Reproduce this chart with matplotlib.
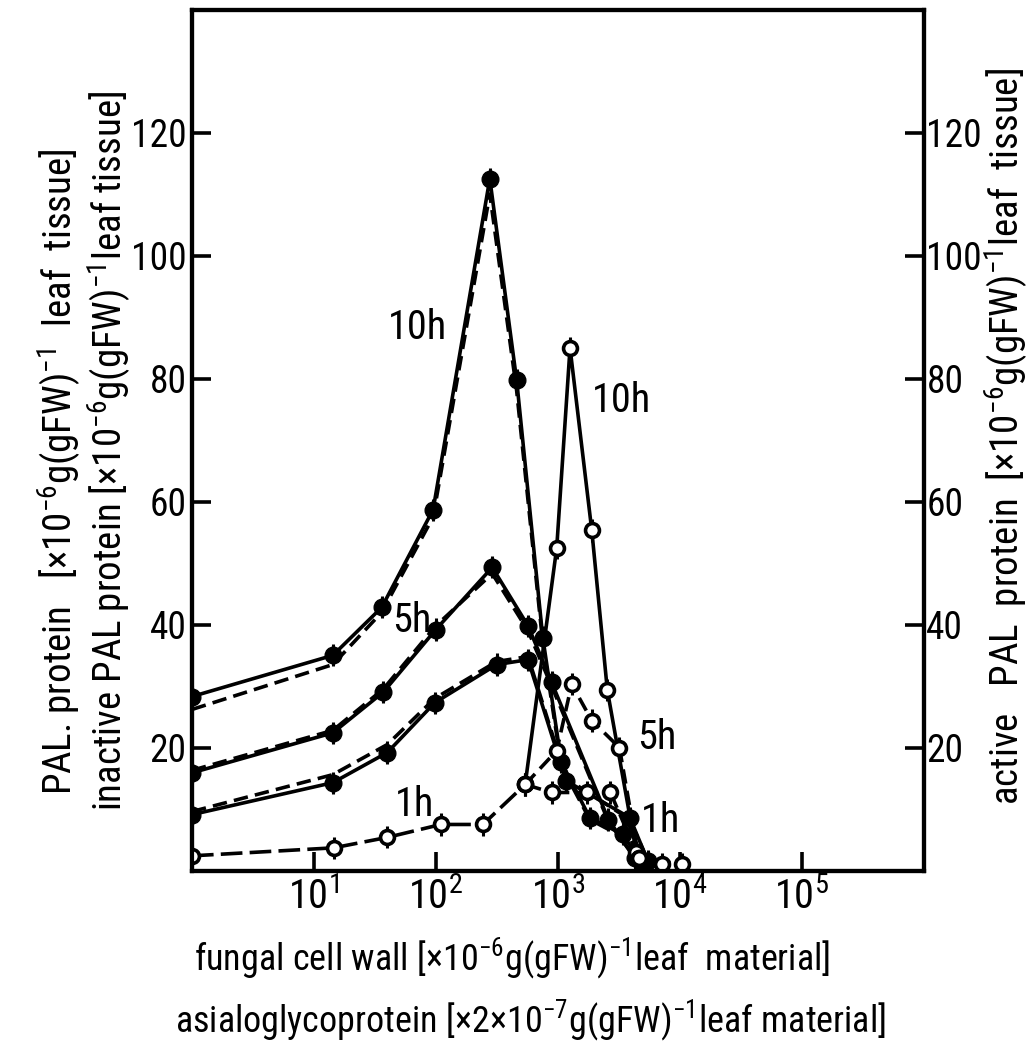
import matplotlib
matplotlib.use('Agg')
import matplotlib.pyplot as plt
from matplotlib.ticker import FixedLocator, NullLocator

FAM = ['Roboto Condensed', 'DejaVu Sans']
plt.rcParams['font.family'] = FAM
plt.rcParams['mathtext.fontset'] = 'custom'
plt.rcParams['mathtext.rm'] = 'Roboto Condensed'
plt.rcParams['mathtext.it'] = 'Roboto Condensed'
plt.rcParams['mathtext.bf'] = 'Roboto Condensed'
plt.rcParams['mathtext.sf'] = 'Roboto Condensed'

# ---------------- data ----------------
# filled circles: PAL protein (solid) and inactive PAL protein (dashed), left axis
x10_pal = [1, 14.3, 36, 95, 277, 460, 753, 1070, 1830, 3400, 5000]
y10_pal = [28.3, 35.0, 42.8, 58.7, 112.5, 79.7, 37.9, 17.6, 8.6, 5.9, 1.0]
y10_inact = [26.2, 33.5, 42.0, 57.5, 110.0, 78.0, 37.0, 17.0, 8.3, 5.5, 1.0]

x5_pal = [1, 14.3, 37, 100, 290, 570, 890, 2600, 4300]
y5_pal = [15.9, 22.4, 29.0, 39.2, 49.3, 39.8, 30.6, 8.3, 2.0]
y5_inact = [16.3, 22.8, 29.5, 39.8, 48.3, 39.0, 30.0, 8.0, 2.0]

x1_pal = [1, 14.3, 40, 98, 316, 570, 1170, 3900, 5500]
y1_pal = [9.1, 14.3, 19.2, 27.3, 33.5, 34.3, 14.6, 8.6, 1.5]
y1_inact = [9.6, 15.6, 20.5, 28.0, 34.0, 34.8, 15.0, 8.3, 1.5]

# open circles: active PAL protein, right axis
x10_act = [540, 980, 1260, 1900, 2550, 4400]
y10_act = [14.0, 52.5, 85.0, 55.3, 29.3, 3.0]

x5_act = [540, 980, 1300, 1900, 3200, 4600, 7200]
y5_act = [14.0, 19.5, 30.3, 24.4, 20.0, 2.1, 1.0]

x1_act = [1, 14.5, 40, 110, 243, 540, 890, 1750, 2700, 4600, 10500]
y1_act = [2.4, 3.7, 5.4, 7.5, 7.5, 14.0, 12.7, 12.7, 12.7, 2.1, 1.0]

xtick_vals = [1e1, 1e2, 1e3, 1e4, 1e5]
xtick_labels = ['10$^1$', '10$^2$', '10$^3$', '10$^4$', '10$^5$']
ytick_vals = [20, 40, 60, 80, 100, 120]
ytick_labels = ['20', '40', '60', '80', '100', '120']

# ---------------- style ----------------
LW = 2.6
DASH = (4, 2)
ERR = 1.8
TICK_FS = 27
LAB_FS = 28

fig = plt.figure(figsize=(10.32, 10.63), dpi=100)
ax = fig.add_axes([0.186, 0.181, 0.709, 0.810])
ax.set_xscale('log')
ax.set_xlim(1, 1e6)
ax.set_ylim(0, 140)

def filled(x, y, yi):
    ax.plot(x, yi, color='black', lw=LW, dashes=DASH, zorder=2)
    ax.errorbar(x, y, yerr=ERR, color='black', lw=LW, fmt='-o', ms=12,
                mfc='black', mec='black', elinewidth=2.2, capsize=0, zorder=3)

def opened(x, y, dashes=None):
    kw = dict(color='black', lw=LW, zorder=3)
    if dashes:
        ax.plot(x, y, dashes=dashes, **kw)
    else:
        ax.plot(x, y, **kw)
    ax.errorbar(x, y, yerr=ERR, fmt='o', ms=10, mfc='white', mec='black',
                mew=2.6, ecolor='black', elinewidth=2.2, capsize=0, zorder=4)

filled(x10_pal, y10_pal, y10_inact)
filled(x5_pal, y5_pal, y5_inact)
filled(x1_pal, y1_pal, y1_inact)
opened(x10_act, y10_act)
opened(x5_act, y5_act, dashes=(4, 2))
opened(x1_act, y1_act, dashes=(6, 2))

# curve labels
for tx, ty, s in [(71, 88.3, '10h'), (3300, 76.4, '10h'), (64, 40.7, '5h'),
                  (67, 10.7, '1h'), (6500, 21.6, '5h'), (6900, 8.1, '1h')]:
    ax.text(tx, ty, s, fontsize=29, ha='center', va='center')

# axes styling
for sp in ax.spines.values():
    sp.set_linewidth(3)
ax.xaxis.set_major_locator(FixedLocator(xtick_vals))
ax.xaxis.set_minor_locator(NullLocator())
ax.set_xticklabels(xtick_labels)
ax.set_yticks(ytick_vals)
ax.set_yticklabels(ytick_labels)
ax.tick_params(axis='both', direction='in', length=14, width=2.6,
               labelsize=TICK_FS, pad=4)
ax.tick_params(axis='x', pad=5, labelsize=29)

ax2 = ax.twinx()
ax2.set_ylim(0, 140)
ax2.set_yticks(ytick_vals)
ax2.set_yticklabels(ytick_labels)
ax2.tick_params(axis='y', direction='in', length=14, width=2.6,
                labelsize=TICK_FS, pad=2)
for sp in ax2.spines.values():
    sp.set_linewidth(3)

# axis titles
fig.text(0.058, 0.556,
         'PAL. protein   [×10$^{-6}$g(gFW)$^{-1}$  leaf  tissue]',
         rotation=90, ha='center', va='center', fontsize=LAB_FS)
fig.text(0.107, 0.576,
         'inactive PAL protein [×10$^{-6}$g(gFW)$^{-1}$leaf tissue]',
         rotation=90, ha='center', va='center', fontsize=LAB_FS)
fig.text(0.976, 0.589,
         'active   PAL  protein  [×10$^{-6}$g(gFW)$^{-1}$leaf  tissue]',
         rotation=90, ha='center', va='center', fontsize=LAB_FS)
fig.text(0.496, 0.099,
         'fungal cell wall [×10$^{-6}$g(gFW)$^{-1}$leaf  material]',
         ha='center', va='center', fontsize=26)
fig.text(0.514, 0.040,
         'asialoglycoprotein [×2×10$^{-7}$g(gFW)$^{-1}$leaf material]',
         ha='center', va='center', fontsize=26)

fig.savefig('out.png', dpi=100)
